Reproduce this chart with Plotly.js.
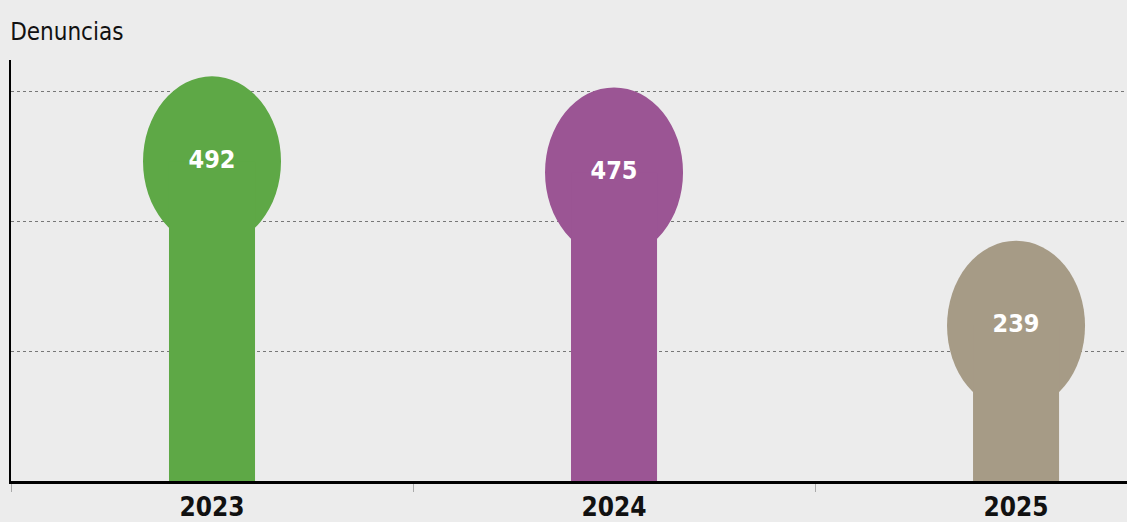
<!DOCTYPE html>
<html>
<head>
<meta charset="utf-8">
<script src="https://cdn.plot.ly/plotly-3.0.1.min.js"></script>
<style>html,body{margin:0;padding:0;background:#ececec;}#chart{width:1127px;height:522px;}</style>
</head>
<body>
<div id="chart"></div>
<script>
const years = ["2023", "2024", "2025"];
const denuncias = [492, 475, 239];
const colors = ["#5ea846", "#9b5594", "#a69b86"];
const yTicks = [200, 400, 600];
const chartTitle = "Denuncias";

const labelFont = "'DejaVu Sans Condensed', 'DejaVu Sans', sans-serif";

const bars = {
  type: "bar",
  x: years,
  y: denuncias,
  width: 0.214,
  marker: {color: colors, line: {width: 0}},
  hoverinfo: "skip"
};

const labels = {
  type: "scatter",
  mode: "text",
  x: years,
  y: denuncias,
  text: denuncias.map(String),
  textposition: "middle center",
  textfont: {family: labelFont, size: 25, color: "#ffffff", weight: "bold", stretch: "condensed"},
  hoverinfo: "skip",
  cliponaxis: false
};

const shapes = years.map((yr, i) => ({
  type: "circle",
  xref: "x", yref: "y",
  xsizemode: "pixel", ysizemode: "pixel",
  xanchor: i, yanchor: denuncias[i],
  x0: -69, x1: 69, y0: -85, y1: 85,
  fillcolor: colors[i],
  line: {width: 0},
  layer: "between"
}));

const layout = {
  width: 1127, height: 522,
  paper_bgcolor: "#ececec",
  plot_bgcolor: "#ececec",
  margin: {l: 11, r: 0, t: 60, b: 41},
  showlegend: false,
  title: {text: chartTitle, x: 0.009, xanchor: "left", y: 0.94, yanchor: "middle",
          font: {family: labelFont, size: 24, color: "#111111", stretch: "condensed"}},
  xaxis: {
    type: "category",
    range: [-0.5, 2.276],
    showgrid: false,
    showline: true, linecolor: "#000000", linewidth: 3,
    ticks: "outside", tickson: "boundaries", ticklen: 8, tickcolor: "#aaaaaa", tickwidth: 1,
    ticklabelstandoff: 1,
    tickfont: {family: labelFont, size: 26, color: "#111111", weight: "bold", stretch: "condensed"},
    fixedrange: true
  },
  yaxis: {
    range: [0, 648],
    tickvals: yTicks,
    showticklabels: false,
    showgrid: true, gridcolor: "#777777", gridwidth: 1, griddash: "dot",
    showline: true, linecolor: "#000000", linewidth: 2,
    zeroline: false,
    ticks: "",
    fixedrange: true
  },
  shapes: shapes
};

Plotly.newPlot("chart", [bars, labels], layout, {displayModeBar: false, staticPlot: true});
</script>
</body>
</html>
